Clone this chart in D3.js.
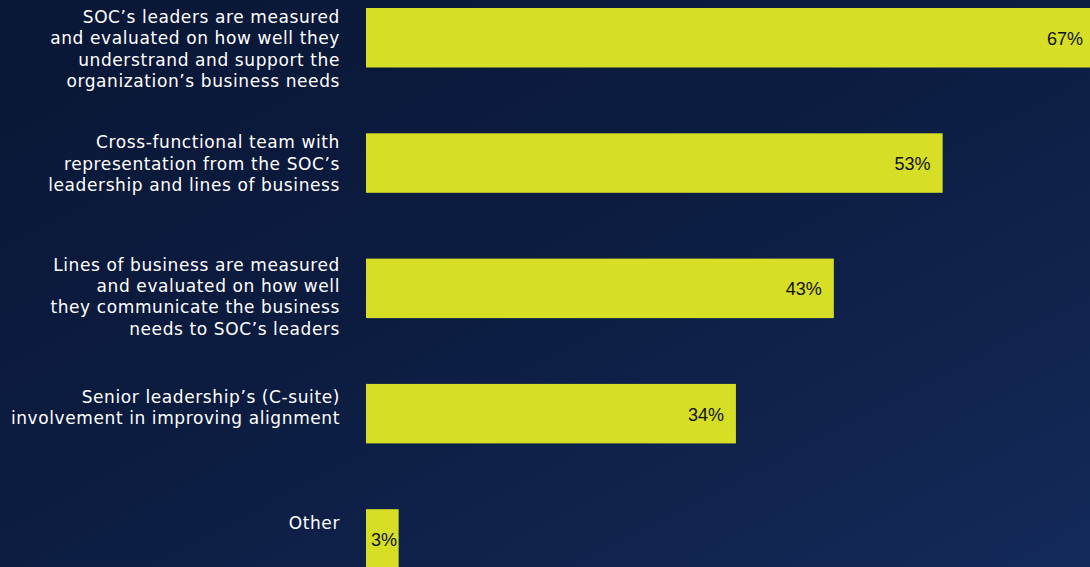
<!DOCTYPE html>
<html>
<head>
<meta charset="utf-8">
<script src="https://cdn.jsdelivr.net/npm/d3@7"></script>
<style>
  html, body { margin: 0; padding: 0; background: #0b1a3b; overflow: hidden; }
  svg { display: block; }
</style>
</head>
<body>
<svg id="chart" width="1090" height="567"></svg>
<script>
// Survey answers: how SOC and business alignment is achieved
const categories = [
  ["SOC\u2019s leaders are measured", "and evaluated on how well they", "understrand and support the", "organization\u2019s business needs"],
  ["Cross-functional team with", "representation from the SOC\u2019s", "leadership and lines of business"],
  ["Lines of business are measured", "and evaluated on how well", "they communicate the business", "needs to SOC\u2019s leaders"],
  ["Senior leadership\u2019s (C-suite)", "involvement in improving alignment"],
  ["Other"]
];
const values = [67, 53, 43, 34, 3];
const valueLabels = ["67%", "53%", "43%", "34%", "3%"];

const W = 1090, H = 567;
const svg = d3.select("#chart");

// background gradient
const defs = svg.append("defs");
const grad = defs.append("linearGradient").attr("id", "bg")
  .attr("x1", "0%").attr("y1", "0%").attr("x2", "100%").attr("y2", "100%");
grad.append("stop").attr("offset", "0%").attr("stop-color", "#0a1736");
grad.append("stop").attr("offset", "45%").attr("stop-color", "#0c1c40");
grad.append("stop").attr("offset", "100%").attr("stop-color", "#142a59");
svg.append("rect").attr("width", W).attr("height", H).attr("fill", "url(#bg)");

const x = d3.scaleLinear().domain([0, 100]).range([366, 1454]);
const step = 125.3, barH = 59.5;
const y = d3.scaleBand().domain(d3.range(values.length))
  .range([8, 8 + step * (values.length - 1) + barH])
  .paddingInner(1 - barH / step).paddingOuter(0);

const rows = svg.append("g").selectAll("g").data(values).join("g");

rows.append("rect")
  .attr("x", x(0))
  .attr("y", (d, i) => y(i))
  .attr("width", d => x(d) - x(0))
  .attr("height", y.bandwidth())
  .attr("fill", "#d6de25");

rows.append("text")
  .attr("text-anchor", "end")
  .attr("dominant-baseline", "central")
  .attr("font-family", "'Liberation Sans', Arial, sans-serif")
  .attr("font-size", 18)
  .attr("fill", "#111111")
  .attr("y", (d, i) => y(i) + y.bandwidth() / 2 + 1)
  .attr("x", d => x(d) - 12)
  .text((d, i) => valueLabels[i])
  .each(function (d) {
    const w = this.getComputedTextLength();
    const minX = x(0) + 5 + w;
    if (x(d) - 12 < minX) d3.select(this).attr("x", minX);
  });

// category labels, right aligned to the left of the bars
const lineH = 21.4;
rows.append("text")
  .attr("text-anchor", "end")
  .attr("font-family", "'DejaVu Sans', sans-serif")
  .attr("font-size", 17)
  .attr("letter-spacing", 0.6)
  .attr("fill", "#ffffff")
  .each(function (d, i) {
    const t = d3.select(this);
    const n = categories[i].length;
    // multi-line labels sit near the bar top, short ones drop a little lower
    const top = y(i) + 15 + (n <= 2 ? 4 + (2 - n) * 1 : (n === 4 && i > 0 ? -3 : 0));
    categories[i].forEach((line, k) => {
      t.append("tspan")
        .attr("x", 340)
        .attr("y", top + k * lineH)
        .text(line);
    });
  });
</script>
</body>
</html>
